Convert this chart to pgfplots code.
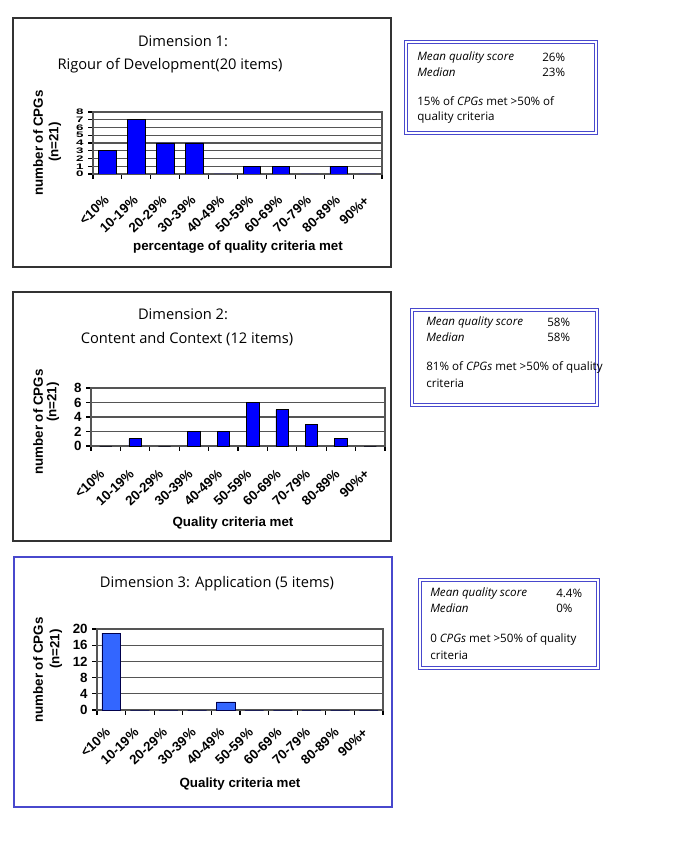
\documentclass[border=0pt]{standalone}
\usepackage{pgfplots}
\pgfplotsset{compat=1.18}
\usepackage{fontspec}
\setmainfont{Liberation Sans}
\newfontfamily\comic{Open Sans}

\definecolor{barblue}{RGB}{0,0,255}
\definecolor{barblueC}{RGB}{51,102,255}
\definecolor{boxblue}{RGB}{72,72,205}
\definecolor{gridgray}{RGB}{85,85,85}

\pgfplotsset{
  cpg/.style={
    scale only axis, anchor=south west,
    ybar, ymin=0, xmin=0, xmax=10,
    /pgf/number format/assume math mode=true,
    axis line style={gridgray, line width=0.9pt},
    ymajorgrids, grid style={gridgray, line width=1pt},
    tick align=outside, xtick pos=bottom, ytick pos=left,
    tick style={black, line width=0.8pt},
    major tick length=3.5pt,
    xtick={0,...,10}, x tick label as interval,
    xticklabels={<10\%,10-19\%,20-29\%,30-39\%,40-49\%,50-59\%,60-69\%,70-79\%,80-89\%,90\%+},
    y tick label style={font=\bfseries\fontsize{10}{10}\selectfont},
  },
  % #1 = down shift, #2 = side shift of the rotated category names
  xlab/.style 2 args={xticklabel style={yshift=#1, xshift=#2, rotate=43, anchor=north east,
      inner sep=0pt, font=\bfseries\fontsize{10}{11}\selectfont}},
}

\begin{document}
\begin{tikzpicture}
\begin{scope}[x=0.75pt, y=-0.75pt]
\useasboundingbox (0,0) rectangle (685,848);
\fill[white] (0,0) rectangle (685,848);

% frames
\draw[black!80, line width=0.9pt] (13,18) rectangle (391,267);
\draw[black!80, line width=0.9pt] (13,292) rectangle (391,541);
\draw[boxblue, line width=1pt] (14,557) rectangle (392,807);

% titles
\begin{scope}[font=\comic\fontsize{11}{13}\selectfont]
\node at (183,41) {Dimension 1:};
\node at (170,66) {Rigour of Development(20 items)};
\node at (183,314) {Dimension 2:};
\node at (187,339) {Content and Context (12 items)};
\node at (217,584) {Dimension 3: Application (5 items)};
\end{scope}

% axis labels
\begin{scope}[font=\bfseries\fontsize{10}{12}\selectfont]
\node[rotate=90] at (38,143) {number of CPGs};
\node[rotate=90] at (55,142) {(n=21)};
\node[rotate=90] at (38,422) {number of CPGs};
\node[rotate=90] at (53,402) {(n=21)};
\node[rotate=90] at (38,670) {number of CPGs};
\node[rotate=90] at (56,649) {(n=21)};
\node at (238,247) {percentage of quality criteria met};
\node at (233,523) {Quality criteria met};
\node at (240,784) {Quality criteria met};
\end{scope}

% summary boxes
\tikzset{sbox/.style={draw=boxblue, line width=0.7pt, double=white, double distance=1.6pt}}
\draw[sbox] (406,42) rectangle (596,133);
\draw[sbox] (412,310) rectangle (597,405);
\draw[sbox] (420,580) rectangle (598,668);
\begin{scope}[font=\comic\fontsize{8.7}{10}\selectfont, inner sep=0pt]
\node[anchor=west] at (417,57) {\itshape Mean quality score};
\node[anchor=west] at (542,57) {26\%};
\node[anchor=west] at (417,72) {\itshape Median};
\node[anchor=west] at (542,72) {23\%};
\node[anchor=west] at (417,101) {15\% of \textit{CPGs} met >50\% of};
\node[anchor=west] at (417,117) {quality criteria};

\node[anchor=west] at (426,322) {\itshape Mean quality score};
\node[anchor=west] at (547,322) {58\%};
\node[anchor=west] at (426,337) {\itshape Median};
\node[anchor=west] at (547,337) {58\%};
\node[anchor=west] at (426,367) {81\% of \textit{CPGs} met >50\% of quality};
\node[anchor=west] at (426,383) {criteria};

\node[anchor=west] at (430,593) {\itshape Mean quality score};
\node[anchor=west] at (556,593) {4.4\%};
\node[anchor=west] at (430,608) {\itshape Median};
\node[anchor=west] at (556,608) {0\%};
\node[anchor=west] at (430,639) {0 \textit{CPGs} met >50\% of quality};
\node[anchor=west] at (430,655) {criteria};
\end{scope}
\end{scope}

% Dimension 1
\begin{axis}[cpg, xlab={-12pt}{-3pt}, at={(69.75pt,-130.5pt)}, width=216.75pt, height=46.5pt,
  ymax=8, ytick={0,...,8}, bar width=0.61,
  y tick label style={yscale=0.6}]
\addplot[fill=barblue, draw=black, line width=0.5pt] coordinates {
  (0.5,3) (1.5,7) (2.5,4) (3.5,4) (4.5,0) (5.5,1) (6.5,1) (7.5,0) (8.5,1) (9.5,0)};
\end{axis}

% Dimension 2
\begin{axis}[cpg, xlab={-13pt}{-5pt}, at={(68.25pt,-334.5pt)}, width=220.5pt, height=43.5pt,
  ymax=8, ytick={0,2,...,8}, bar width=0.42]
\addplot[fill=barblue, draw=black, line width=0.5pt] coordinates {
  (0.5,0) (1.5,1) (2.5,0) (3.5,2) (4.5,2) (5.5,6) (6.5,5) (7.5,3) (8.5,1) (9.5,0)};
\end{axis}

% Dimension 3
\begin{axis}[cpg, xlab={-9pt}{-5pt}, at={(72.75pt,-532.5pt)}, width=214.5pt, height=60.75pt,
  ymax=20, ytick={0,4,...,20}, bar width=0.66]
\addplot[fill=barblueC, draw=black!70!blue, line width=0.5pt] coordinates {
  (0.5,19) (1.5,0) (2.5,0) (3.5,0) (4.5,2) (5.5,0) (6.5,0) (7.5,0) (8.5,0) (9.5,0)};
\end{axis}
\end{tikzpicture}
\end{document}
